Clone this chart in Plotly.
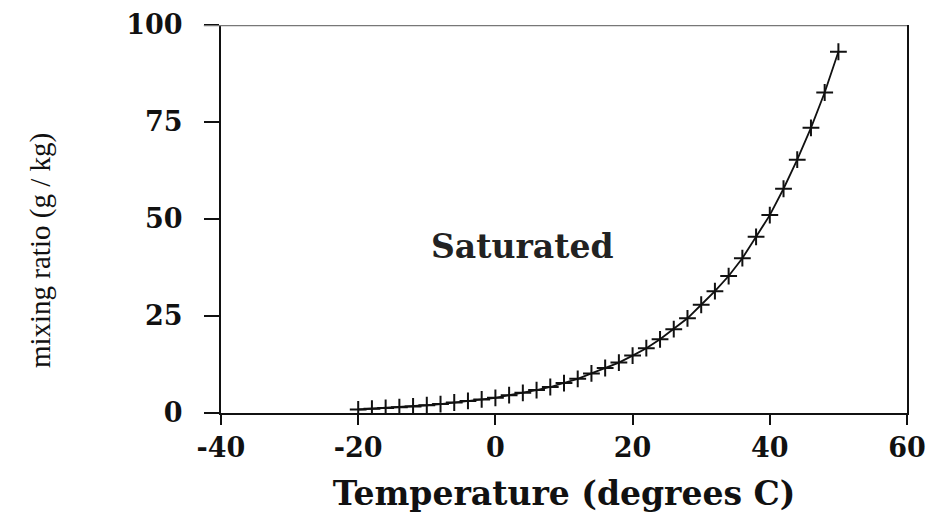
import plotly.graph_objects as go

# Saturation mixing ratio vs temperature
temperature_c = [-20, -18, -16, -14, -12, -10, -8, -6, -4, -2, 0, 2, 4, 6, 8, 10,
                 12, 14, 16, 18, 20, 22, 24, 26, 28, 30, 32, 34, 36, 38, 40, 42,
                 44, 46, 48, 50]
mixing_ratio_gkg = [0.9, 1.1, 1.3, 1.5, 1.7, 2.0, 2.3, 2.7, 3.1, 3.5, 3.9, 4.6,
                    5.2, 5.9, 6.7, 7.7, 8.8, 10.2, 11.6, 13.0, 14.8, 16.7, 19.0,
                    21.6, 24.4, 27.9, 31.4, 35.3, 39.9, 45.4, 51.0, 57.8, 65.3,
                    73.5, 82.6, 93.1]

x_ticks = [-40, -20, 0, 20, 40, 60]
y_ticks = [0, 25, 50, 75, 100]

serif_bold = "DejaVu Serif"
ink = "#111111"

fig = go.Figure()
fig.add_trace(go.Scatter(
    x=temperature_c,
    y=mixing_ratio_gkg,
    mode="lines+markers",
    line=dict(color=ink, width=1.8),
    marker=dict(symbol="cross-thin", size=12, line=dict(color=ink, width=2)),
    showlegend=False,
))

# grey upper frame line
fig.add_shape(type="line", xref="paper", yref="y", x0=-0.025, x1=1, y0=100, y1=100,
              line=dict(color="#777777", width=2.5), layer="above")

fig.add_annotation(text="<b>Saturated</b>", x=4, y=43, xref="x", yref="y",
                   showarrow=False, font=dict(family=serif_bold, size=33, color="#222222"))

fig.add_annotation(text="mixing ratio (g / kg)", textangle=-90,
                   xref="paper", yref="paper", x=-0.262, y=0.418,
                   xanchor="center", yanchor="middle", showarrow=False,
                   font=dict(family="Liberation Serif", size=29, color=ink))

fig.update_layout(
    width=933, height=513,
    margin=dict(l=221, r=26, t=25, b=100),
    paper_bgcolor="white", plot_bgcolor="white",
    xaxis=dict(
        range=[-40, 60], tickvals=x_ticks, ticktext=[f"<b>{v}</b>" for v in x_ticks],
        automargin=False,
        showgrid=False, zeroline=False, showline=True, linecolor=ink, linewidth=2,
        ticks="outside", ticklen=10, tickwidth=2, tickcolor=ink,
        tickfont=dict(family=serif_bold, size=27, color=ink),
        title=dict(text="<b>Temperature (degrees C)</b>", standoff=20,
                   font=dict(family=serif_bold, size=33, color=ink)),
    ),
    yaxis=dict(
        range=[0, 100], tickvals=y_ticks, ticktext=[f"<b>{v}</b>" for v in y_ticks],
        automargin=False,
        showgrid=False, zeroline=False, showline=True, linecolor=ink, linewidth=2,
        mirror=True,
        ticks="outside", ticklen=15, tickwidth=2, tickcolor=ink,
        ticklabelstandoff=16,
        tickfont=dict(family=serif_bold, size=27, color=ink),
    ),
)

fig.write_html("out.html")
